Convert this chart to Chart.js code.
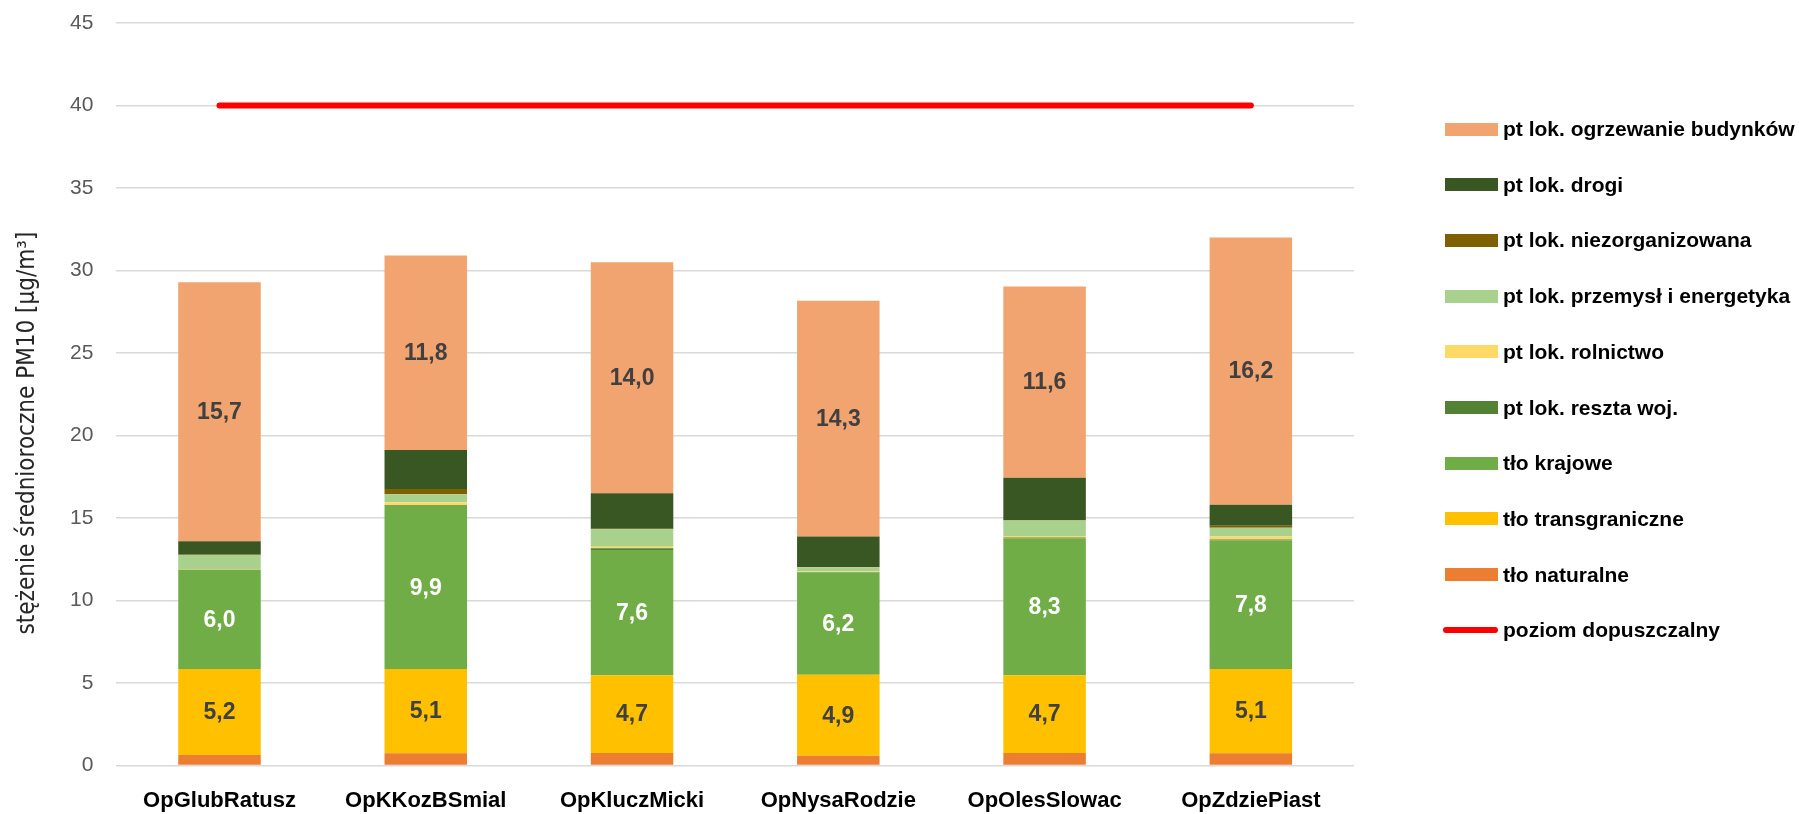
<!DOCTYPE html>
<html lang="pl">
<head>
<meta charset="utf-8">
<title>PM10 - stężenie średnioroczne</title>
<script src="https://cdn.jsdelivr.net/npm/chart.js@4.4.1/dist/chart.umd.min.js"></script>
<style>
    body {
        margin: 0;
        background: #ffffff;
    }
    .wrap {
        position: relative;
        width: 1799px;
        height: 814px;
        overflow: hidden;
    }
    #pmChart {
        position: absolute;
        left: 0;
        top: 0;
    }
    .legend {
        position: absolute;
        left: 1445px;
        top: 0;
        font-family: "Liberation Sans", Arial, sans-serif;
        font-weight: bold;
        font-size: 21px;
        color: #000;
    }
    .legend-item {
        position: absolute;
        left: 0;
        height: 26px;
        display: flex;
        align-items: center;
        white-space: nowrap;
    }
    .legend-box {
        width: 53px;
        height: 13px;
        margin-right: 5px;
        flex: none;
    }
    .legend-line {
        width: 55px;
        height: 6px;
        border-radius: 3px;
        margin-left: -2px;
        margin-right: 5px;
        flex: none;
    }
</style>
</head>
<body>
<div class="wrap">
    <canvas id="pmChart" width="1799" height="814"></canvas>
    <div class="legend" id="legend"></div>
</div>
<script>
// Stacje pomiarowe
const categories = ['OpGlubRatusz', 'OpKKozBSmial', 'OpKluczMicki', 'OpNysaRodzie', 'OpOlesSlowac', 'OpZdziePiast'];

// Udziały źródeł w stężeniu średniorocznym PM10 [µg/m3]
const tloNaturalne      = [0.65, 0.75, 0.77, 0.60, 0.77, 0.75];
const tloTransgraniczne = [5.2, 5.1, 4.7, 4.9, 4.7, 5.1];
const tloKrajowe        = [6.0, 9.9, 7.6, 6.2, 8.3, 7.8];
const resztaWoj         = [0.02, 0.05, 0.10, 0.03, 0.06, 0.05];
const rolnictwo         = [0.03, 0.16, 0.10, 0.03, 0.08, 0.18];
const przemysl          = [0.87, 0.48, 1.05, 0.26, 0.95, 0.53];
const niezorganizowana  = [0.03, 0.33, 0.04, 0.02, 0.03, 0.12];
const drogi             = [0.80, 2.35, 2.15, 1.84, 2.55, 1.28];
const ogrzewanie        = [15.7, 11.8, 14.0, 14.3, 11.6, 16.2];
const poziomDopuszczalny = [40, 40, 40, 40, 40, 40];

const yTicks = [0, 5, 10, 15, 20, 25, 30, 35, 40, 45];
const yTitle = 'stężenie średnioroczne PM10 [µg/m³]';

// Bars from the bottom of the stack up
const barSeries = [
    { label: 'tło naturalne', data: tloNaturalne, color: '#ED7D31' },
    { label: 'tło transgraniczne', data: tloTransgraniczne, color: '#FFC000', valueColor: '#404040' },
    { label: 'tło krajowe', data: tloKrajowe, color: '#70AD47', valueColor: '#ffffff' },
    { label: 'pt lok. reszta woj.', data: resztaWoj, color: '#548235' },
    { label: 'pt lok. rolnictwo', data: rolnictwo, color: '#FFD966' },
    { label: 'pt lok. przemysł i energetyka', data: przemysl, color: '#A9D18E' },
    { label: 'pt lok. niezorganizowana', data: niezorganizowana, color: '#7F6000' },
    { label: 'pt lok. drogi', data: drogi, color: '#385723' },
    { label: 'pt lok. ogrzewanie budynków', data: ogrzewanie, color: '#F1A46F', valueColor: '#404040' }
];
const limitLabel = 'poziom dopuszczalny';
const limitColor = '#FF0000';

function formatValue(v) {
    return v.toFixed(1).replace('.', ',');
}

// Values written in the middle of selected segments
const valueLabels = {
    id: 'valueLabels',
    afterDatasetsDraw(chart) {
        const ctx = chart.ctx;
        ctx.save();
        ctx.font = 'bold 23px "Liberation Sans", Arial, sans-serif';
        ctx.textAlign = 'center';
        ctx.textBaseline = 'middle';
        chart.data.datasets.forEach((ds, i) => {
            if (!ds.valueColor) return;
            const meta = chart.getDatasetMeta(i);
            ctx.fillStyle = ds.valueColor;
            meta.data.forEach((bar, j) => {
                const p = bar.getCenterPoint();
                ctx.fillText(formatValue(ds.data[j]), p.x, p.y + 1);
            });
        });
        ctx.restore();
    }
};

// Vertical axis title, sitting a bit below the middle of the plot
const axisTitle = {
    id: 'axisTitle',
    afterDraw(chart) {
        const ctx = chart.ctx;
        ctx.save();
        ctx.translate(28, 433);
        ctx.rotate(-Math.PI / 2);
        ctx.font = '24px "Liberation Sans Narrow", "DejaVu Sans Condensed", sans-serif';
        ctx.fillStyle = '#262626';
        ctx.textAlign = 'center';
        ctx.textBaseline = 'middle';
        ctx.fillText(yTitle, 0, 0);
        ctx.restore();
    }
};

function buildDatasets() {
    const sets = [{
        type: 'line',
        label: limitLabel,
        data: poziomDopuszczalny,
        borderColor: limitColor,
        backgroundColor: limitColor,
        borderWidth: 6,
        borderCapStyle: 'round',
        pointRadius: 0,
        stack: 'limit'
    }];
    barSeries.forEach(s => {
        sets.push({
            type: 'bar',
            label: s.label,
            data: s.data,
            backgroundColor: s.color,
            borderWidth: 0,
            barPercentage: 1,
            categoryPercentage: 0.4,
            stack: 'sources',
            valueColor: s.valueColor
        });
    });
    return sets;
}

function buildLegend() {
    const legend = document.getElementById('legend');
    const items = barSeries.slice().reverse().map(s => ({ label: s.label, color: s.color, line: false }));
    items.push({ label: limitLabel, color: limitColor, line: true });
    items.forEach((item, i) => {
        const el = document.createElement('div');
        el.className = 'legend-item';
        el.style.top = (129 + i * 55.7 - 13) + 'px';
        el.innerHTML = `<span class="${item.line ? 'legend-line' : 'legend-box'}" style="background:${item.color}"></span><span>${item.label}</span>`;
        legend.appendChild(el);
    });
}

function initializeChart() {
    const ctx = document.getElementById('pmChart').getContext('2d');

    new Chart(ctx, {
        data: {
            labels: categories,
            datasets: buildDatasets()
        },
        plugins: [valueLabels, axisTitle],
        options: {
            responsive: false,
            animation: false,
            layout: {
                padding: { left: 47, right: 445, top: 22, bottom: -22 }
            },
            plugins: {
                legend: { display: false },
                tooltip: { enabled: false }
            },
            scales: {
                x: {
                    stacked: true,
                    grid: { display: false, drawTicks: false },
                    border: { display: false },
                    ticks: {
                        color: '#000000',
                        padding: 22,
                        font: { family: '"Liberation Sans", Arial, sans-serif', size: 22, weight: 'bold' }
                    }
                },
                y: {
                    stacked: true,
                    min: 0,
                    max: 45,
                    afterBuildTicks: axis => {
                        axis.ticks = yTicks.map(v => ({ value: v }));
                    },
                    grid: {
                        color: '#D9D9D9',
                        lineWidth: 1.5,
                        drawTicks: false
                    },
                    border: { display: false },
                    ticks: {
                        color: '#595959',
                        padding: 23,
                        font: { family: '"Liberation Sans", Arial, sans-serif', size: 21, lineHeight: 0.01 }
                    }
                }
            }
        }
    });
}

document.addEventListener('DOMContentLoaded', function() {
    buildLegend();
    initializeChart();
});
</script>
</body>
</html>
